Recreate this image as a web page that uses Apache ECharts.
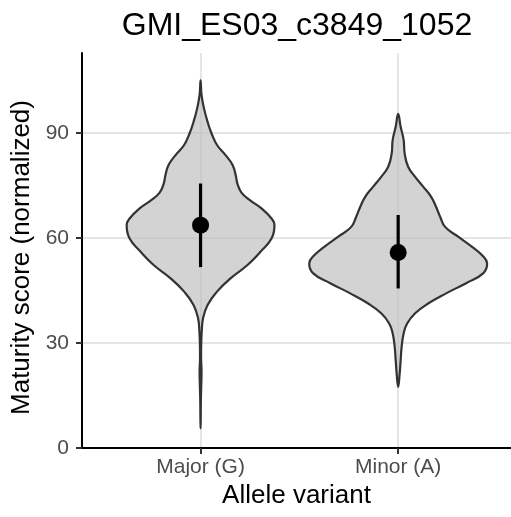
<!DOCTYPE html>
<html>
<head>
<meta charset="utf-8">
<script src="https://cdn.jsdelivr.net/npm/echarts@6/dist/echarts.min.js"></script>
<style>html,body{margin:0;padding:0;background:#fff;}#c{width:511px;height:517px;}</style>
</head>
<body>
<div id="c"></div>
<script>
const titleText = 'GMI_ES03_c3849_1052';
const categories = ['Major (G)', 'Minor (A)'];
const yTicks = [0, 30, 60, 90];

// violin outlines: y values and relative density (1 = widest violin)
const majorY = [105.1, 100.9, 97.0, 93.2, 89.9, 86.6, 83.7, 80.9, 78.0, 75.5, 73.0, 70.9, 68.5, 65.6, 63.7, 59.9, 56.1, 52.3, 48.5, 44.7, 40.9, 37.1, 33.2, 29.4, 25.6, 21.8, 18.0, 14.2, 9.4, 5.6];
const majorDensity = [0, 0.011, 0.039, 0.079, 0.124, 0.185, 0.281, 0.360, 0.395, 0.415, 0.460, 0.551, 0.685, 0.798, 0.831, 0.798, 0.674, 0.528, 0.337, 0.185, 0.079, 0.028, 0.013, 0.007, 0.006, 0.011, 0.008, 0.004, 0.002, 0];
const minorY = [95.5, 91.8, 88.0, 84.2, 80.4, 77.5, 74.7, 71.8, 68.9, 66.1, 63.2, 60.4, 57.5, 55.1, 52.8, 49.9, 47.1, 44.2, 41.3, 38.5, 35.6, 32.8, 28.9, 25.1, 21.3, 17.5];
const minorDensity = [0, 0.028, 0.062, 0.073, 0.112, 0.191, 0.281, 0.371, 0.427, 0.472, 0.528, 0.674, 0.831, 0.944, 1.0, 0.955, 0.764, 0.539, 0.337, 0.191, 0.101, 0.062, 0.039, 0.028, 0.017, 0];

// summary: mean and range (low/high)
const means = [63.7, 55.9];
const lows = [51.7, 45.6];
const highs = [75.6, 66.6];

const violinYs = [majorY, minorY];
const violinDs = [majorDensity, minorDensity];
const halfWidth = 0.45;

const chart = echarts.init(document.getElementById('c'), null, {renderer: 'canvas'});
const FONT = 'Liberation Sans';

const option = {
  backgroundColor: '#ffffff',
  animation: false,
  textStyle: {fontFamily: FONT},
  graphic: [{
    type: 'text', x: 297, y: 26,
    style: {text: titleText, fontSize: 32, fontFamily: FONT, fill: '#000', align: 'center', verticalAlign: 'middle'}
  }],
  grid: {left: 82, right: 0, top: 53, bottom: 69, containLabel: false},
  xAxis: {
    type: 'value', min: 0.4, max: 2.571,
    name: 'Allele variant', nameLocation: 'middle', nameGap: 34,
    nameTextStyle: {fontSize: 26, color: '#000', fontFamily: FONT},
    axisLine: {show: true, onZero: false, lineStyle: {color: '#000', width: 2}},
    axisTick: {show: true, customValues: [1, 2], length: 6, lineStyle: {color: '#333', width: 2}},
    axisLabel: {show: true, customValues: [1, 2], margin: 9, fontSize: 21, color: '#4d4d4d', fontFamily: FONT,
      formatter: v => categories[Math.round(v) - 1] || ''},
    splitLine: {show: true, lineStyle: {color: '#dcdcdc', width: 1.5}}
  },
  yAxis: {
    type: 'value', min: 0, max: 112.9,
    name: 'Maturity score (normalized)', nameLocation: 'middle', nameGap: 43,
    nameTextStyle: {fontSize: 26, color: '#000', fontFamily: FONT, padding: [0, 14, 0, 0]},
    axisLine: {show: true, onZero: false, lineStyle: {color: '#000', width: 2}},
    axisTick: {show: true, customValues: yTicks, length: 6, lineStyle: {color: '#333', width: 2}},
    axisLabel: {show: true, customValues: yTicks, margin: 13, fontSize: 21, color: '#4d4d4d', fontFamily: FONT},
    splitLine: {show: true, lineStyle: {color: '#dcdcdc', width: 1.5}}
  },
  series: [
    {
      type: 'custom',
      data: categories.map((c, i) => [i + 1]),
      encode: {x: 0},
      z: 3,
      renderItem: function (params, api) {
        const i = params.dataIndex;
        const ys = violinYs[i], ds = violinDs[i];
        const cx = api.value(0);
        const pts = [];
        for (let k = 0; k < ys.length; k++) pts.push(api.coord([cx + ds[k] * halfWidth, ys[k]]));
        for (let k = ys.length - 2; k >= 1; k--) pts.push(api.coord([cx - ds[k] * halfWidth, ys[k]]));
        return {
          type: 'polygon',
          shape: {points: pts, smooth: 0.45},
          style: {fill: 'rgba(190,190,190,0.68)', stroke: '#333333', lineWidth: 2.2}
        };
      }
    },
    {
      type: 'custom',
      data: categories.map((c, i) => [i + 1, lows[i], highs[i]]),
      encode: {x: 0, y: [1, 2]},
      z: 4,
      renderItem: function (params, api) {
        const a = api.coord([api.value(0), api.value(1)]);
        const b = api.coord([api.value(0), api.value(2)]);
        return {type: 'line', shape: {x1: a[0], y1: a[1], x2: b[0], y2: b[1]}, style: {stroke: '#000', lineWidth: 3.2}};
      }
    },
    {
      type: 'scatter',
      data: categories.map((c, i) => [i + 1, means[i]]),
      symbol: 'circle', symbolSize: 17, z: 5,
      itemStyle: {color: '#000', opacity: 1}
    }
  ]
};
chart.setOption(option);
</script>
</body>
</html>
